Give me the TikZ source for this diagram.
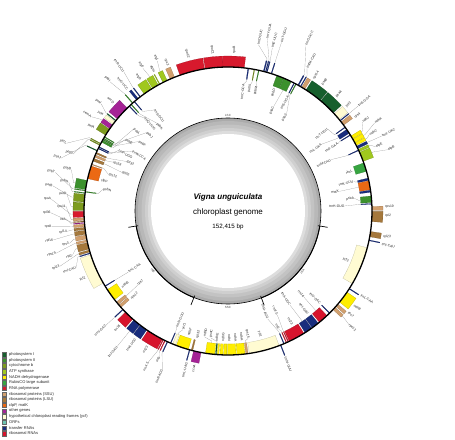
\documentclass[tikz,border=0pt]{standalone}
\usepackage{fontspec}
\setmainfont{Liberation Sans}
\definecolor{cpsa}{RGB}{22,95,45}
\definecolor{cpsb}{RGB}{60,145,45}
\definecolor{cpet}{RGB}{125,155,30}
\definecolor{catp}{RGB}{160,200,30}
\definecolor{cndh}{RGB}{255,238,0}
\definecolor{crbc}{RGB}{55,165,65}
\definecolor{crpo}{RGB}{215,25,45}
\definecolor{crps}{RGB}{210,160,110}
\definecolor{crpl}{RGB}{165,120,60}
\definecolor{cclp}{RGB}{235,105,20}
\definecolor{coth}{RGB}{165,35,150}
\definecolor{cycf}{RGB}{255,251,210}
\definecolor{corf}{RGB}{110,195,175}
\definecolor{ctrn}{RGB}{25,45,125}
\definecolor{crrn}{RGB}{215,20,45}
\newcounter{gnc}
\tikzset{
  leader/.style={draw=black!45, line width=0.15pt},
  glabel/.style={font=\fontsize{3.4}{4}\selectfont, text=black!85, inner sep=0.2pt},
  ringlbl/.style={font=\fontsize{3}{3}\selectfont, text=black!75, inner sep=0.2pt},
  legbox/.style={draw=black!60, line width=0.2pt, minimum size=4.4pt, inner sep=0pt},
  legtext/.style={font=\fontsize{4}{4.5}\selectfont, text=black!85, anchor=west, inner sep=0pt},
}
% #1 start, #2 end (deg clockwise from north), #3 o/i, #4 colour, #5 label, #6 label angle, #7 label offset
\newcommand\gene[7]{%
  \pgfmathsetmacro\gA{90-(#1)}%
  \pgfmathsetmacro\gB{90-(#2)}%
  \pgfmathsetmacro\gM{90-((#1)+(#2))/2}%
  \pgfmathsetmacro\gL{90-(#6)}%
  \if#3o%
    \def\rIn{144}\def\rOut{155}\def\rA{155}\def\rB{157}%
    \pgfmathsetmacro\rC{157+(#7)}%
  \else
    \def\rIn{133}\def\rOut{144}\def\rA{133}\def\rB{131}%
    \pgfmathsetmacro\rC{131-(#7)}%
  \fi
  \filldraw[fill=#4, draw=#4!70!black, line width=0.15pt]
    (\gA:\rIn pt) arc[start angle=\gA, end angle=\gB, radius=\rIn pt]
    -- (\gB:\rOut pt) arc[start angle=\gB, end angle=\gA, radius=\rOut pt] -- cycle;
  \ifx\relax#5\relax\else
    \pgfmathtruncatemacro\gR{mod(mod(#6,360)+360,360)<180 ? 1 : 0}%
    \ifnum\gR=1
      \pgfmathsetmacro\gRot{\gL}%
      \if#3o\def\gAnc{west}\else\def\gAnc{east}\fi
    \else
      \pgfmathsetmacro\gRot{\gL+180}%
      \if#3o\def\gAnc{east}\else\def\gAnc{west}\fi
    \fi
    \ifdim #7pt>0pt
      \draw[leader] (\gM:\rA pt) -- (\gM:\rB pt) -- (\gL:\rC pt);
    \fi
    \stepcounter{gnc}%
    \node[glabel, rotate=\gRot, anchor=\gAnc] (gl\arabic{gnc}) at (\gL:\rC pt) {#5};
  \fi
}
\begin{document}
\begin{tikzpicture}
\useasboundingbox (-228pt,-228pt) rectangle (227pt,211pt);
% GC ring
\fill[gray!66] (0,0) circle (93pt);
\fill[gray!56] (0,0) circle (90pt);
\fill[gray!47] (0,0) circle (86.5pt);
\fill[gray!38] (0,0) circle (83pt);
\fill[gray!27] (0,0) circle (80pt);
\fill[white] (0,0) circle (77pt);
\draw[line width=0.6pt] (0,0) circle (93pt);
\foreach \a/\b in {99.3/159, 201.5/260.7}
  \draw[line width=1pt] ({90-\a}:93pt) arc[start angle={90-\a}, end angle={90-\b}, radius=93pt];
\foreach \a in {99.3,159,201.5,260.7}
  \draw[line width=0.7pt] ({90-\a}:91pt) -- ({90-\a}:101pt);
\node[ringlbl] (tLSC) at (90:96pt) {LSC};
\node[ringlbl] (tSSC) at (-90:96pt) {SSC};
\node[ringlbl, rotate=51] (tIRA) at (-39:96pt) {IRA};
\node[ringlbl, rotate=-51.5] (tIRB) at (-141.5:96pt) {IRB};
% centre text
\node[font=\bfseries\itshape\fontsize{8}{9}\selectfont, inner sep=0pt] (title) at (0,14pt) {Vigna unguiculata};
\node[font=\fontsize{8}{9}\selectfont, inner sep=0pt] (sub) at (0,-1pt) {chloroplast genome};
\node[font=\fontsize{6.2}{7}\selectfont, inner sep=0pt] (len) at (0,-16pt) {152,415 bp};
% ---- genes ----
\gene{-2}{6.5}{o}{crpo}{rpoB}{2.25}{0}
\gene{7.9}{8.3}{i}{ctrn}{trnC-GCA}{7.0}{3}
\gene{10.4}{10.7}{i}{cpet}{petN}{10.0}{3}
\gene{12.2}{12.5}{i}{cpsb}{psbM}{13.0}{3}
\gene{14.2}{14.6}{o}{ctrn}{trnD-GUC}{10.4}{12}
\gene{15.0}{15.3}{o}{ctrn}{trnY-GUA}{12.8}{20}
\gene{15.5}{15.8}{o}{ctrn}{trnE-UUC}{15.2}{12}
\gene{17.4}{17.7}{o}{ctrn}{trnT-GGU}{17.6}{20}
\gene{19.8}{22.7}{i}{cpsb}{psbD}{21.0}{0}
\gene{22.8}{26.0}{i}{cpsb}{psbC}{23.6}{17}
\gene{27.2}{27.5}{i}{ctrn}{trnS-UGA}{27.6}{1}
\gene{28.0}{28.3}{i}{cpsb}{psbZ}{31.2}{18}
\gene{29.0}{29.4}{o}{ctrn}{trnG-GCC}{25.2}{26}
\gene{30.1}{30.4}{o}{ctrn}{trnfM-CAU}{29.0}{6}
\gene{30.8}{32.2}{o}{crps}{rps14}{33.0}{0}
\gene{32.8}{39.8}{o}{cpsa}{psaB}{36.8}{0}
\gene{40.1}{47.0}{o}{cpsa}{psaA}{43.5}{0}
\gene{47.6}{50.6}{o}{cycf}{ycf3}{48.6}{0}
\gene{51.0}{51.3}{o}{ctrn}{trnS-GGA}{51.1}{10}
\gene{51.8}{53.4}{o}{crps}{rps4}{53.7}{0}
\gene{54.3}{54.6}{i}{ctrn}{trnT-UGU}{50.5}{2}
\gene{55.5}{57.3}{i}{ctrn}{trnL-UAA}{54.5}{16}
\gene{58.0}{58.3}{i}{ctrn}{trnF-GAA}{58.5}{2}
\gene{58.6}{59.9}{o}{cndh}{ndhJ}{56.5}{4}
\gene{60.1}{61.6}{o}{cndh}{ndhK}{59.0}{14}
\gene{61.8}{62.9}{o}{cndh}{ndhC}{61.5}{4}
\gene{63.3}{64.3}{o}{ctrn}{trnV-UAC}{64.0}{14}
\gene{64.7}{65.7}{o}{catp}{atpE}{66.5}{4}
\gene{66.0}{69.8}{o}{catp}{atpB}{69.0}{14}
\gene{64.9}{65.2}{i}{ctrn}{trnM-CAU}{63.5}{16}
\gene{70.5}{74.0}{i}{crbc}{rbcL}{72.2}{0}
\gene{76.8}{77.7}{i}{ctrn}{trnK-UUU}{76.8}{2}
\gene{77.9}{81.5}{i}{cclp}{matK}{80.0}{18}
\gene{81.7}{82.5}{i}{ctrn}{}{0}{0}
\gene{84.0}{86.6}{i}{cpsb}{psbA}{84.3}{4}
\gene{87.0}{87.3}{i}{ctrn}{trnH-GUG}{87.5}{14}
\gene{88.2}{89.7}{o}{crps}{rps19}{88.6}{0}
\gene{90.1}{94.2}{o}{crpl}{rpl2}{91.6}{0}
\gene{98.2}{100.3}{o}{crpl}{rpl23}{99.2}{0}
\gene{101.6}{101.9}{o}{ctrn}{trnI-CAU}{102.2}{0}
\gene{104.8}{120.3}{i}{cycf}{ycf2}{112.5}{0}
\gene{122.5}{122.8}{o}{ctrn}{trnL-CAA}{122.3}{0}
\gene{124.3}{129.2}{o}{cndh}{ndhB}{126.7}{0}
\gene{130.3}{131.5}{o}{crps}{rps7}{130.2}{0}
\gene{132.0}{133.2}{o}{crps}{rps12}{133.2}{9}
\gene{135.0}{135.3}{i}{ctrn}{trnV-GAC}{135.1}{0}
\gene{136.6}{140.6}{i}{crrn}{rrn16}{138.6}{16}
\gene{141.2}{144.2}{i}{ctrn}{trnI-GAU}{142.2}{0}
\gene{144.5}{147.6}{i}{ctrn}{trnA-UGC}{146.6}{18}
\gene{148.2}{154.8}{i}{crrn}{rrn23}{150.5}{0}
\gene{155.1}{155.4}{i}{crrn}{rrn4.5}{154.6}{16}
\gene{155.9}{156.2}{i}{crrn}{rrn5}{156.8}{2}
\gene{157.0}{157.3}{i}{ctrn}{trnR-ACG}{159.8}{16}
\gene{158.4}{158.7}{o}{ctrn}{trnN-GUU}{158.6}{0}
\gene{159.2}{171.5}{i}{cycf}{ycf1}{165.5}{0}
\gene{172.0}{172.9}{i}{crps}{rps15}{171.0}{2}
\gene{173.2}{176.5}{i}{cndh}{ndhH}{173.8}{0}
\gene{176.8}{180.2}{i}{cndh}{ndhA}{176.6}{0}
\gene{180.5}{181.7}{i}{cndh}{ndhI}{179.4}{0}
\gene{182.0}{183.2}{i}{cndh}{ndhG}{182.2}{0}
\gene{183.6}{184.3}{i}{cndh}{ndhE}{185.0}{0}
\gene{184.6}{185.0}{i}{cpsa}{psaC}{187.8}{3}
\gene{185.3}{189.0}{i}{cndh}{ndhD}{190.6}{3}
\gene{190.8}{193.8}{o}{coth}{ccsA}{192.3}{0}
\gene{194.2}{194.8}{i}{crpl}{rpl32}{193.6}{0}
\gene{195.3}{195.6}{o}{ctrn}{trnL-UAG}{195.2}{0}
\gene{196.0}{201.0}{i}{cndh}{ndhF}{197.6}{0}
\gene{201.4}{202.6}{i}{cycf}{ycf1}{200.8}{4}
\gene{203.3}{203.6}{i}{ctrn}{trnN-GUU}{203.8}{4}
\gene{204.7}{205.0}{o}{ctrn}{trnR-ACG}{202.6}{14}
\gene{205.8}{206.1}{o}{crrn}{rrn5}{205.2}{4}
\gene{206.6}{206.9}{o}{crrn}{rrn4.5}{207.8}{14}
\gene{207.2}{213.8}{o}{crrn}{rrn23}{210.8}{0}
\gene{214.4}{217.5}{o}{ctrn}{trnA-UGC}{215.9}{0}
\gene{217.8}{220.8}{o}{ctrn}{trnI-GAU}{219.3}{18}
\gene{221.4}{225.4}{o}{crrn}{rrn16}{223.4}{0}
\gene{226.7}{227.0}{o}{ctrn}{trnV-GAC}{226.9}{10}
\gene{228.0}{229.2}{i}{crps}{rps12}{227.8}{0}
\gene{229.6}{230.8}{i}{crps}{rps7}{230.6}{14}
\gene{232.0}{236.9}{i}{cndh}{ndhB}{234.4}{0}
\gene{238.4}{238.7}{i}{ctrn}{trnL-CAA}{238.5}{14}
\gene{240.0}{252.3}{o}{cycf}{ycf2}{245.0}{0}
\gene{252.8}{253.1}{o}{ctrn}{trnI-CAU}{249.6}{5}
\gene{253.5}{254.3}{o}{crpl}{rpl23}{251.8}{20}
\gene{254.7}{257.3}{o}{crpl}{rpl2}{254.0}{5}
\gene{257.6}{258.4}{o}{crps}{rps19}{256.2}{20}
\gene{258.8}{260.4}{o}{crps}{rps3}{258.4}{5}
\gene{260.7}{262.3}{o}{crpl}{rpl16}{260.6}{20}
\gene{262.6}{263.5}{o}{crpl}{rpl14}{262.8}{5}
\gene{263.8}{264.8}{o}{crps}{rps8}{265.0}{20}
\gene{265.1}{265.4}{o}{coth}{infA}{267.2}{5}
\gene{265.7}{266.0}{o}{crpl}{rpl36}{269.4}{20}
\gene{266.3}{267.3}{o}{crps}{rps11}{271.6}{5}
\gene{267.6}{269.9}{o}{crpo}{rpoA}{273.8}{20}
\gene{270.2}{273.3}{o}{cpet}{petD}{276.0}{5}
\gene{273.6}{276.6}{o}{cpet}{petB}{278.2}{20}
\gene{277.0}{277.3}{o}{cpsb}{psbH}{280.4}{5}
\gene{277.5}{277.8}{i}{cpsb}{psbN}{279.8}{4}
\gene{278.0}{278.3}{o}{cpsb}{psbT}{282.6}{20}
\gene{278.6}{282.2}{o}{cpsb}{psbB}{284.8}{5}
\gene{283.0}{288.2}{i}{cclp}{clpP}{283.6}{0}
\gene{288.7}{289.0}{i}{crps}{rps12}{287.0}{6}
\gene{290.3}{291.4}{i}{crpl}{rpl20}{290.0}{18}
\gene{292.0}{292.9}{i}{crps}{rps18}{293.0}{6}
\gene{293.4}{294.0}{i}{crpl}{rpl33}{296.0}{18}
\gene{294.6}{294.9}{o}{cpsa}{psaJ}{287.6}{18}
\gene{295.6}{295.9}{i}{ctrn}{trnP-UGG}{299.0}{6}
\gene{296.2}{296.5}{i}{ctrn}{trnW-CCA}{302.0}{18}
\gene{297.1}{297.4}{o}{cpet}{petG}{290.2}{8}
\gene{297.7}{298.0}{o}{cpet}{petL}{292.8}{18}
\gene{298.6}{299.4}{i}{cpsb}{psbE}{305.0}{6}
\gene{299.6}{299.9}{i}{cpsb}{psbF}{308.0}{18}
\gene{300.1}{300.4}{i}{cpsb}{psbL}{311.0}{6}
\gene{300.8}{301.1}{i}{cpsb}{psbJ}{314.0}{18}
\gene{301.8}{304.6}{o}{cpet}{petA}{301.8}{0}
\gene{304.9}{306.6}{o}{coth}{cemA}{304.6}{9}
\gene{307.0}{308.3}{o}{cycf}{ycf4}{307.4}{0}
\gene{308.7}{309.0}{o}{cpsa}{psaI}{310.2}{9}
\gene{309.8}{315.6}{o}{coth}{accD}{313.4}{0}
\gene{316.6}{316.9}{i}{ctrn}{trnQ-UUG}{318.0}{6}
\gene{317.6}{317.9}{i}{cpsb}{psbK}{321.0}{18}
\gene{318.4}{318.7}{o}{cpsb}{psbI}{317.6}{18}
\gene{319.3}{319.6}{i}{ctrn}{trnS-GCU}{324.0}{6}
\gene{320.5}{321.4}{o}{ctrn}{trnG-UCC}{320.4}{0}
\gene{322.3}{322.6}{o}{ctrn}{trnR-UCU}{323.2}{17}
\gene{324.4}{328.0}{o}{catp}{atpA}{326.2}{0}
\gene{328.4}{331.0}{o}{catp}{atpF}{329.2}{9}
\gene{331.5}{331.8}{o}{catp}{atpH}{332.0}{0}
\gene{333.2}{335.0}{o}{catp}{atpI}{334.8}{9}
\gene{336.3}{338.2}{o}{crps}{rps2}{337.6}{0}
\gene{340.5}{350.6}{o}{crpo}{rpoC2}{345.5}{0}
\gene{350.9}{358.0}{o}{crpo}{rpoC1}{354.4}{0}
% main circle
\draw[line width=1.3pt] (0,0) circle (144pt);
% legend
\foreach [count=\i from 0] \c/\t in {cpsa/photosystem I, cpsb/photosystem II, cpet/cytochrome b/f complex, catp/ATP synthase, cndh/NADH dehydrogenase, crbc/RubisCO large subunit, crpo/RNA polymerase, crps/ribosomal proteins (SSU), crpl/ribosomal proteins (LSU), cclp/{clpP, matK}, coth/other genes, cycf/hypothetical chloroplast reading frames (ycf), corf/ORFs, ctrn/transfer RNAs, crrn/ribosomal RNAs} {
  \node[legbox, fill=\c] (lb\i) at (-223.8pt, {-143.5pt-5.64pt*\i}) {};
  \node[legtext] (lt\i) at (-219pt, {-143.5pt-5.64pt*\i}) {\t};
}
\end{tikzpicture}
\end{document}
